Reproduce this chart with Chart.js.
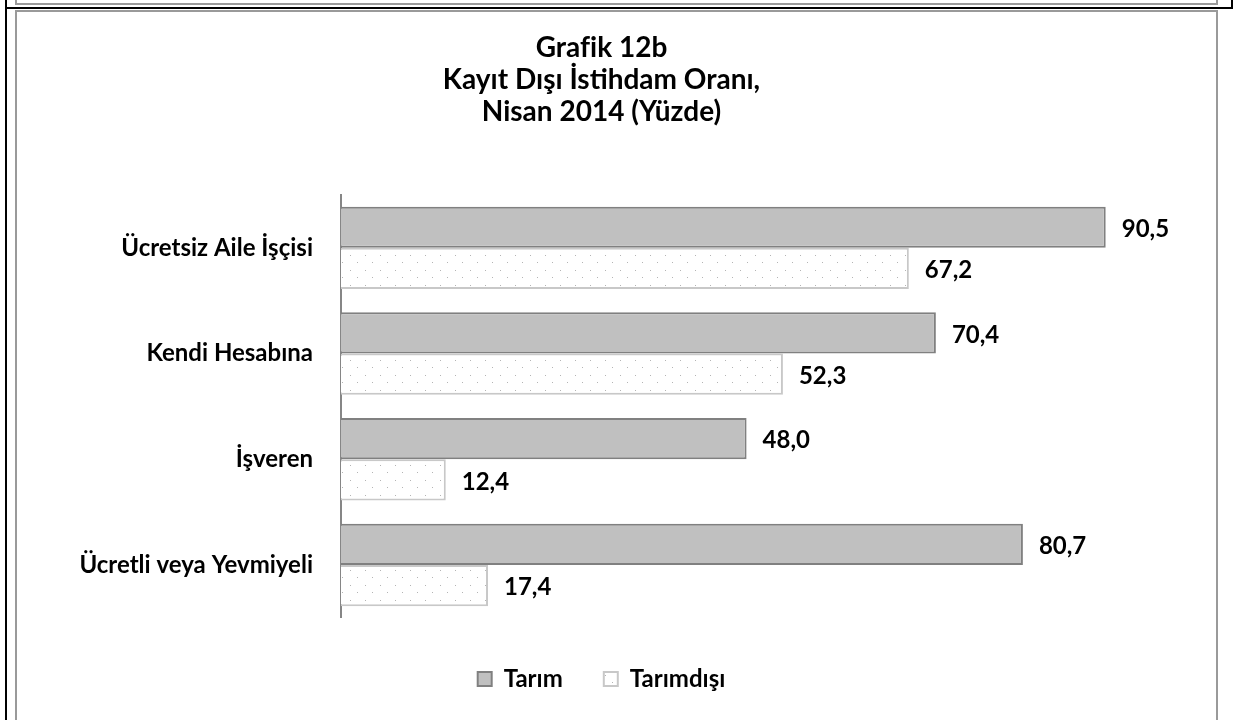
<!DOCTYPE html>
<html lang="tr">
<head>
<meta charset="utf-8">
<title>Grafik 12b</title>
<script src="https://cdn.jsdelivr.net/npm/chart.js@4"></script>
<style>
    body { margin: 0; background: #fff; width: 1235px; height: 720px; overflow: hidden; position: relative; }
    .ln { position: absolute; }
    .blk { background: #000; }
    .gry { background: #9a9a9a; }
    #chartBox { position: absolute; left: 17px; top: 12px; width: 1199px; height: 708px; }
</style>
</head>
<body>
<!-- cadre -->
<div class="ln gry" style="left:15px;top:0;width:2px;height:4px"></div>
<div class="ln gry" style="left:15px;top:3px;width:1203px;height:2px"></div>
<div class="ln gry" style="left:1216px;top:0;width:2px;height:4px"></div>
<div class="ln blk" style="left:5px;top:0;width:2px;height:720px"></div>
<div class="ln blk" style="left:5px;top:7px;width:1228px;height:2px"></div>
<div class="ln blk" style="left:1231px;top:0;width:2px;height:9px"></div>
<div class="ln gry" style="left:15px;top:10px;width:1203px;height:2px"></div>
<div class="ln gry" style="left:15px;top:10px;width:2px;height:710px"></div>
<div class="ln gry" style="left:1216px;top:10px;width:2px;height:710px"></div>

<div id="chartBox"><canvas id="grafik"></canvas></div>

<script>
// Données
const categories = ['Ücretsiz Aile İşçisi', 'Kendi Hesabına', 'İşveren', 'Ücretli veya Yevmiyeli'];
const tarim = [90.5, 70.4, 48.0, 80.7];
const tarimDisi = [67.2, 52.3, 12.4, 17.4];
const seriesNames = ['Tarım', 'Tarımdışı'];
const titleLines = ['Grafik 12b', 'Kayıt Dışı İstihdam Oranı,', 'Nisan 2014 (Yüzde)'];

const FONT = 'Lato, "Open Sans", sans-serif';

// Motif pointillé pour Tarımdışı
function makeDots() {
    const c = document.createElement('canvas');
    c.width = 15; c.height = 15;
    const g = c.getContext('2d');
    g.fillStyle = '#fff';
    g.fillRect(0, 0, 15, 15);
    g.fillStyle = '#b4b4b4';
    g.fillRect(3, 3, 1, 1);
    g.fillRect(10, 10, 1, 1);
    return g.createPattern(c, 'repeat');
}

// Etiquettes de valeurs
const valueLabels = {
    id: 'valueLabels',
    afterDatasetsDraw(chart) {
        const ctx = chart.ctx;
        ctx.save();
        ctx.font = 'bold 24px ' + FONT;
        ctx.fillStyle = '#000';
        ctx.textAlign = 'left';
        ctx.textBaseline = 'middle';
        chart.data.datasets.forEach((ds, i) => {
            chart.getDatasetMeta(i).data.forEach((bar, j) => {
                const txt = ds.data[j].toFixed(1).replace('.', ',');
                ctx.fillText(txt, bar.x + 16, bar.y + 2);
            });
        });
        ctx.restore();
    }
};

new Chart(document.getElementById('grafik'), {
    type: 'bar',
    data: {
        labels: categories,
        datasets: [{
            label: seriesNames[0],
            data: tarim,
            backgroundColor: '#c0c0c0',
            borderColor: '#808080',
            borderWidth: 2
        }, {
            label: seriesNames[1],
            data: tarimDisi,
            backgroundColor: makeDots(),
            borderColor: '#c8c8c8',
            borderWidth: 2
        }]
    },
    options: {
        indexAxis: 'y',
        responsive: true,
        maintainAspectRatio: false,
        animation: false,
        categoryPercentage: 0.78,
        barPercentage: 1,
        layout: { padding: { top: 20, right: 30, bottom: 19, left: 0 } },
        scales: {
            x: {
                display: false,
                min: 0,
                max: 100
            },
            y: {
                grid: { display: false, drawTicks: false },
                border: { color: '#868686', width: 2 },
                ticks: {
                    padding: 28,
                    color: '#000',
                    font: { family: FONT, size: 24, weight: 'bold' }
                },
                afterFit(scale) { scale.width = 324; }
            }
        },
        plugins: {
            title: {
                display: true,
                text: titleLines,
                color: '#000',
                font: { family: FONT, size: 28, weight: 'bold', lineHeight: '32px' },
                padding: { top: 0, bottom: 67 }
            },
            legend: {
                position: 'bottom',
                // titre vide : sert seulement d'espace au-dessus de la légende
                title: { display: true, text: '', font: { size: 1 }, padding: { top: 7, bottom: 0 } },
                labels: {
                    color: '#000',
                    boxWidth: 14,
                    boxHeight: 14,
                    padding: 41,
                    font: { family: FONT, size: 24, weight: 'bold' }
                }
            },
            tooltip: { enabled: false }
        }
    },
    plugins: [valueLabels]
});
</script>
</body>
</html>
